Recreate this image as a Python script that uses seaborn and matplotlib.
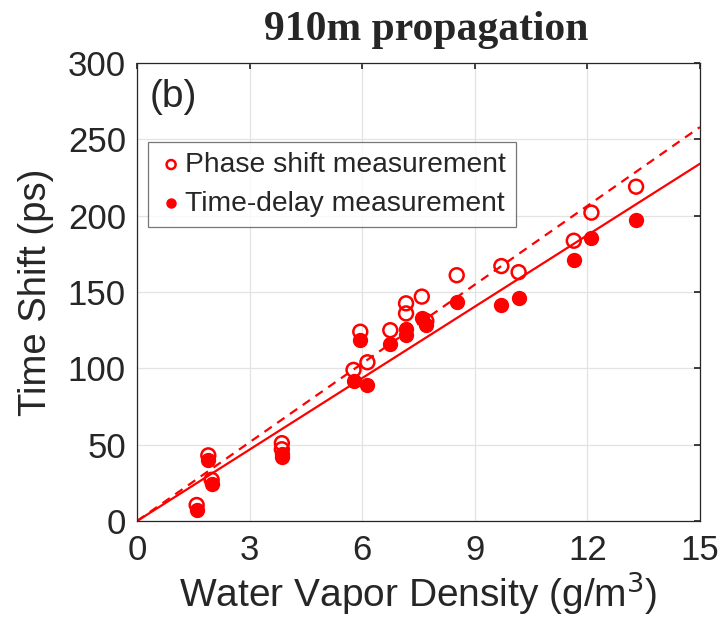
import numpy as np
import pandas as pd
import matplotlib
matplotlib.use("Agg")
import matplotlib.pyplot as plt
import seaborn as sns

# valores (densidade em g/m3, atraso em ps)
densidade = [1.59, 1.90, 1.99, 3.86, 3.86, 5.77, 5.95, 6.14, 6.75, 7.17, 7.17,
             7.59, 7.71, 8.52, 9.71, 10.17, 11.64, 12.11, 13.30]
fase = [10.5, 43, 27, 51, 47, 99, 124, 104, 125, 142.6, 136,
        147, 131, 161, 167, 163, 183.6, 202, 219]
atraso = [7, 40, 24.5, 44, 42, 92, 118.5, 89, 116, 126, 122,
          132.7, 128.4, 143.6, 141.5, 146.3, 171, 185.5, 197]

# inclinação das retas ajustadas (ps por g/m3)
inclinacao_fase = 17.2
inclinacao_atraso = 15.6
x_ajuste = [0, 15]

df = pd.DataFrame({'dens': densidade, 'fase': fase, 'atraso': atraso})
df_fit = pd.DataFrame({'x': x_ajuste})
df_fit['fase'] = df_fit['x'] * inclinacao_fase
df_fit['atraso'] = df_fit['x'] * inclinacao_atraso

sns.set_theme(style="white")
plt.rcParams['font.family'] = ['Liberation Sans', 'DejaVu Sans']

fig = plt.figure(figsize=(7.23, 6.27), dpi=100)
ax = fig.add_axes([0.1895, 0.169, 0.7785, 0.7305])

vermelho = '#ff0000'
sns.lineplot(data=df_fit, x='x', y='fase', ax=ax, color=vermelho, lw=1.6,
             linestyle=(0, (4, 3)), zorder=2)
sns.lineplot(data=df_fit, x='x', y='atraso', ax=ax, color=vermelho, lw=1.6, zorder=2)

sns.scatterplot(data=df, x='dens', y='fase', ax=ax, marker='o', s=100,
                facecolors='none', edgecolors=vermelho, linewidth=1.8,
                label='Phase shift measurement', zorder=3)
sns.scatterplot(data=df, x='dens', y='atraso', ax=ax, marker='o', s=100,
                color=vermelho, edgecolor=vermelho, linewidth=1,
                label='Time-delay measurement', zorder=3)

ax.set_xlim(0, 15)
ax.set_ylim(0, 300)
ax.set_xticks([0, 3, 6, 9, 12, 15])
ax.set_yticks(range(0, 301, 50))
ax.grid(True, color='#e3e3e3', lw=0.9)
ax.tick_params(direction='in', length=4, top=True, right=True,
               labelsize=25, colors='#262626')
ax.tick_params(axis='x', pad=9)
ax.tick_params(axis='y', pad=8)
for s in ax.spines.values():
    s.set_color('#262626')
    s.set_linewidth(0.9)

ax.set_xlabel('Water Vapor Density (g/m$^3$)', fontsize=28, color='#262626', labelpad=2)
ax.set_ylabel('Time Shift (ps)', fontsize=27.5, color='#262626', labelpad=10)
ax.text(0.022, 0.965, '(b)', transform=ax.transAxes, fontsize=28,
        va='top', ha='left', color='#262626')

fig.text(0.589, 0.952, '910m propagation', ha='center', va='center',
         fontsize=30, fontweight='bold', family=['Liberation Serif', 'DejaVu Serif'])

leg = ax.legend(loc='upper left', bbox_to_anchor=(0.020, 0.828), fontsize=20.3,
                frameon=True, fancybox=False, handletextpad=0.05,
                handlelength=0.9, borderpad=0.36, labelspacing=0.45,
                markerscale=0.65, borderaxespad=0)
leg.get_frame().set_edgecolor('#555555')
leg.get_frame().set_linewidth(0.9)
for t in leg.get_texts():
    t.set_color('#262626')

fig.savefig('out.png', dpi=100)
